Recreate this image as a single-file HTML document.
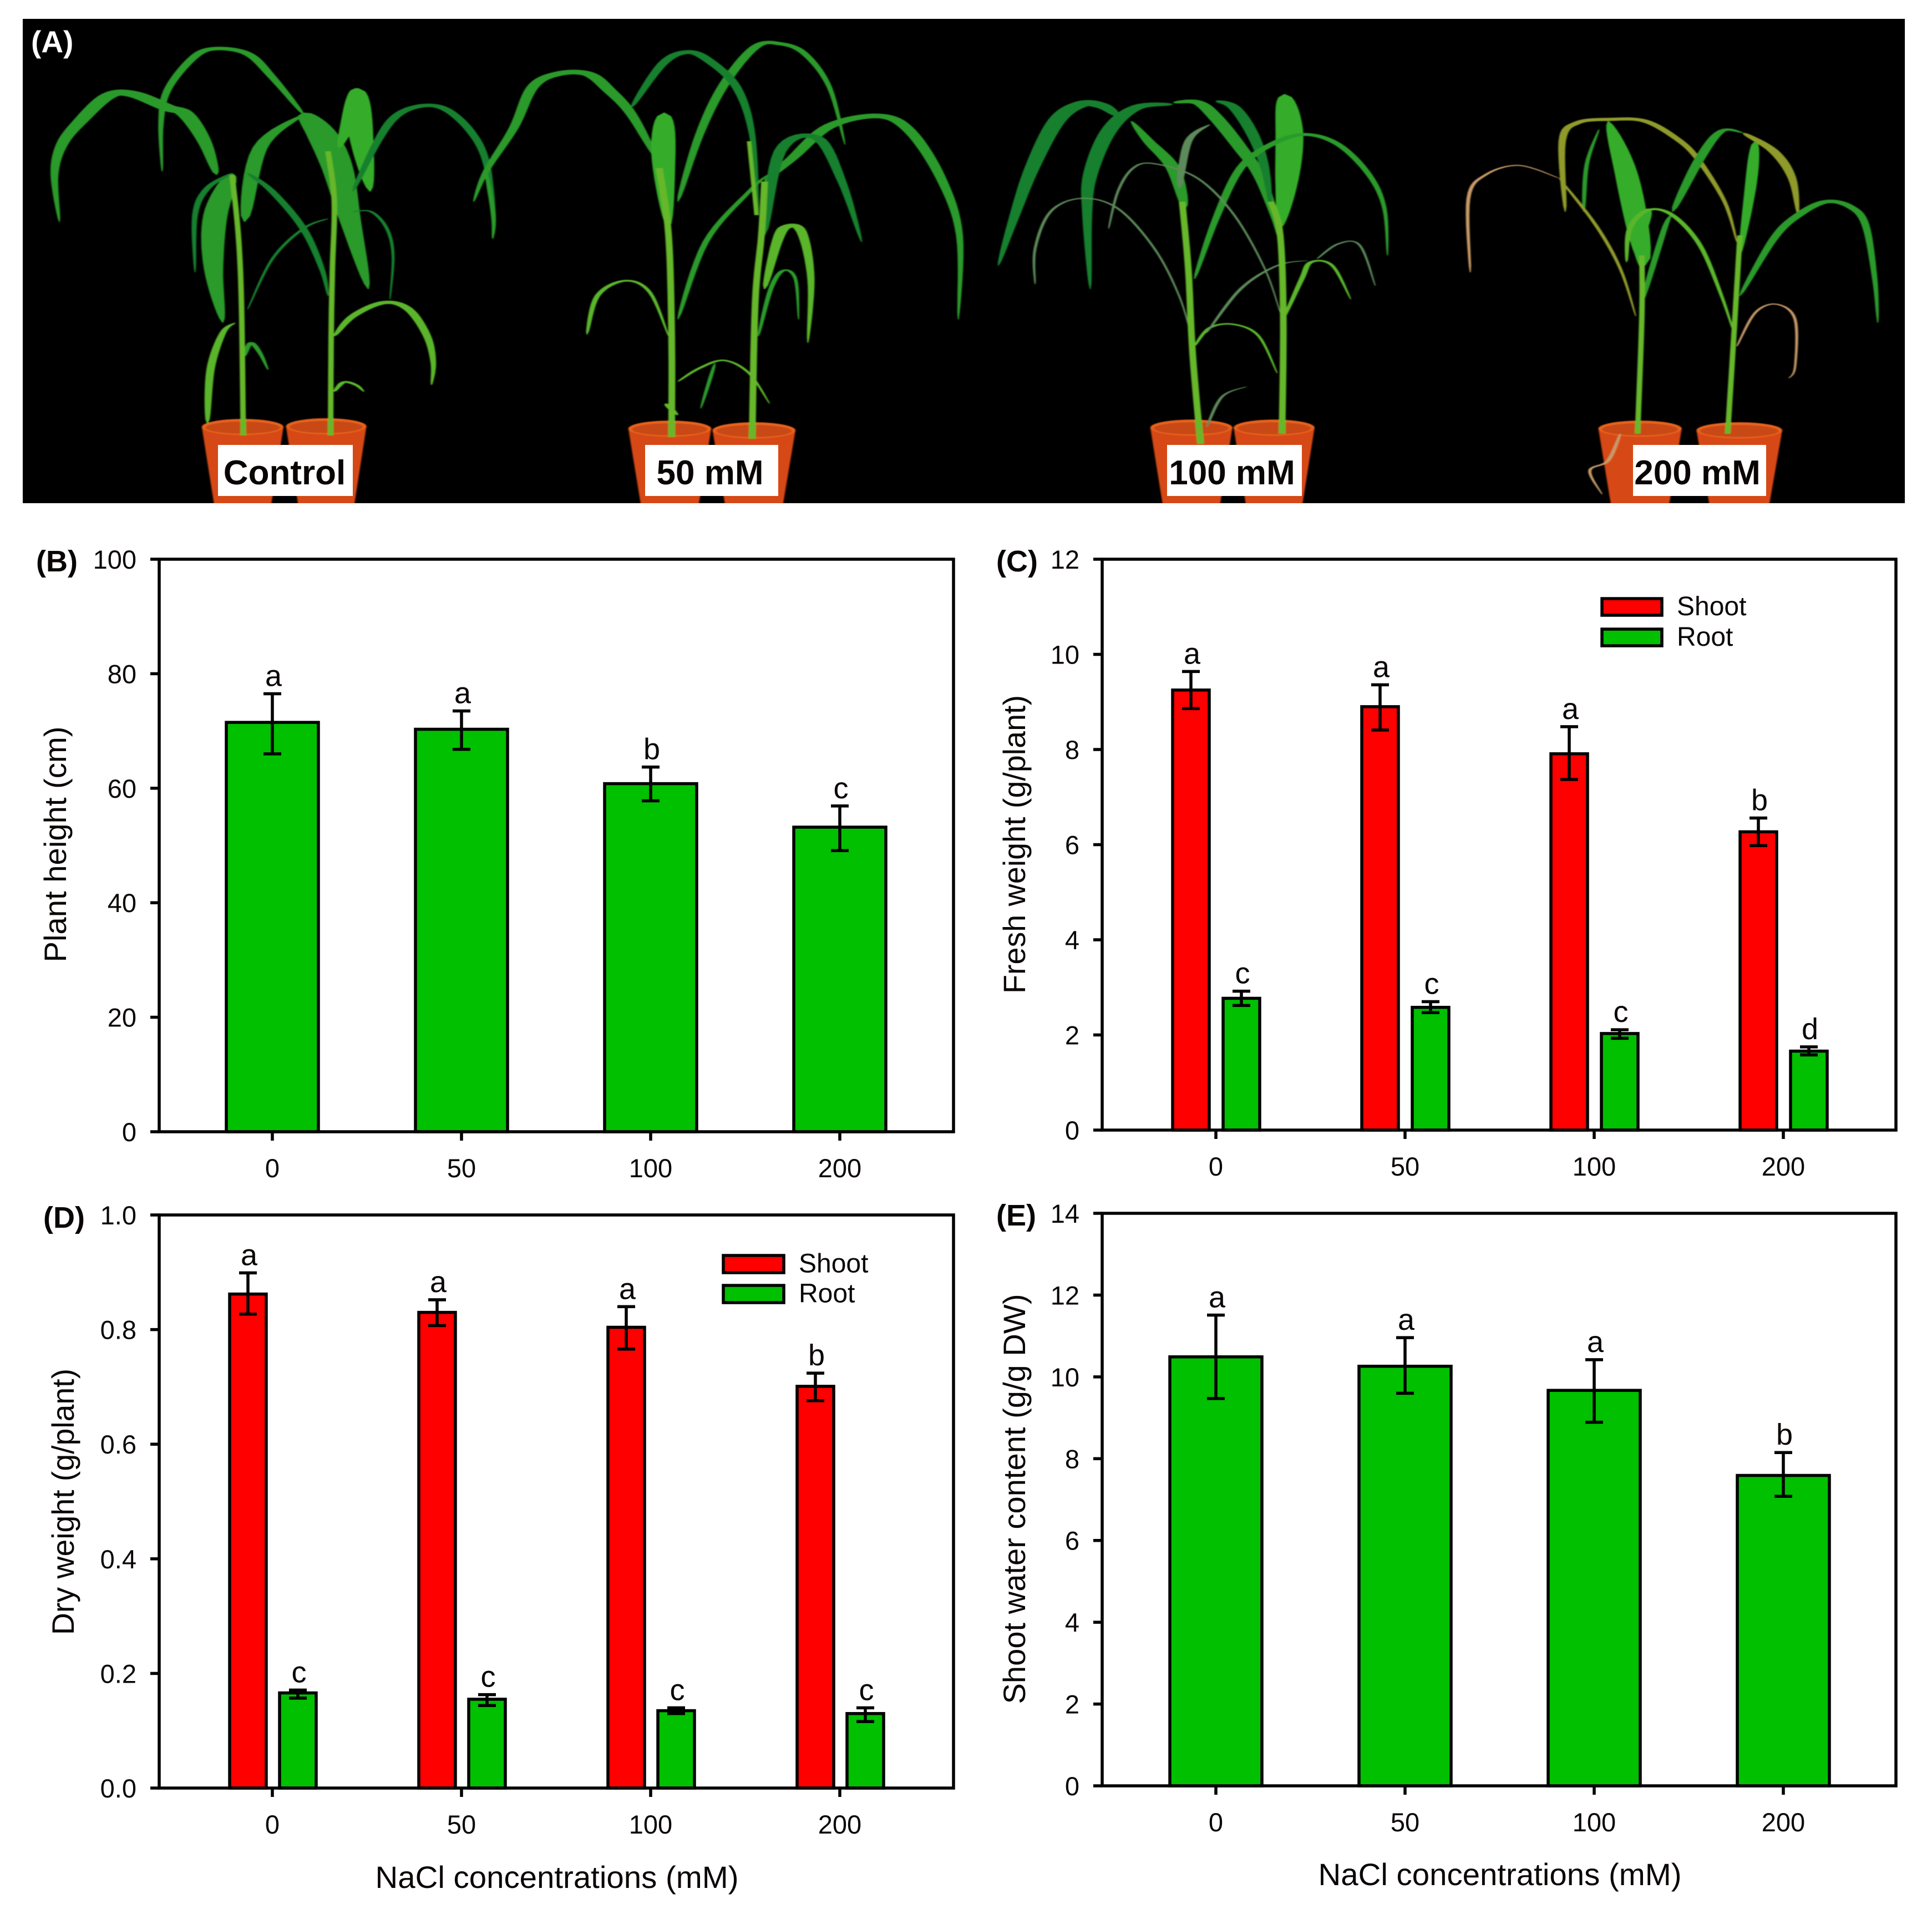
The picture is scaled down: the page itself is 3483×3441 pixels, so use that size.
<!DOCTYPE html>
<html lang="en">
<head>
<meta charset="utf-8">
<title>Sorghum growth under NaCl concentrations</title>
<style>
html,body{margin:0;padding:0;background:#fff;width:3483px;height:3441px;overflow:hidden}
svg{display:block}
text{font-family:"Liberation Sans",sans-serif;fill:#0a0505}
</style>
</head>
<body>
<svg id="figure" xmlns="http://www.w3.org/2000/svg" width="3483" height="3441" viewBox="0 0 3483 3441">
  <defs>
    <clipPath id="photo-clip"><rect x="41" y="34" width="3393" height="873"/></clipPath>
    <filter id="soft" x="-2%" y="-2%" width="104%" height="104%"><feGaussianBlur stdDeviation="1.2"/></filter>
  </defs>
  <g id="panel-a">
    <rect x="41" y="34" width="3393" height="873" fill="#000"/>
    <g clip-path="url(#photo-clip)">
      <g id="plants-left" transform="scale(1.116,0.606)" filter="url(#soft)"></g>
      <g id="plants-right" transform="translate(1750,0) scale(1.105,0.606)" filter="url(#soft)"></g>
    </g>
    <rect x="393" y="802" width="243" height="92" fill="#fff"/>
    <rect x="1163" y="802" width="240" height="92" fill="#fff"/>
    <rect x="2104" y="802" width="243" height="92" fill="#fff"/>
    <rect x="2944" y="802" width="240" height="92" fill="#fff"/>
    <text x="513" y="873" font-size="62" font-weight="bold" text-anchor="middle">Control</text>
    <text x="1280" y="873" font-size="62" font-weight="bold" text-anchor="middle">50 mM</text>
    <text x="2221" y="873" font-size="62" font-weight="bold" text-anchor="middle">100 mM</text>
    <text x="3060" y="873" font-size="62" font-weight="bold" text-anchor="middle">200 mM</text>
    <text x="56" y="94" font-size="55" font-weight="bold" style="fill:#fff">(A)</text>
  </g>
  <g id="charts"></g>
</svg>

<script>
// ---------- Chart data ----------
const categories = ['0', '50', '100', '200'];

const heightTicks = ['0', '20', '40', '60', '80', '100'];
const heightValues = [71.5, 70.3, 60.8, 53.2];
const heightErrHigh = [76.5, 73.5, 63.7, 56.9];
const heightErrLow = [66.0, 66.8, 57.8, 49.1];
const heightLetters = ['a', 'a', 'b', 'c'];

const freshTicks = ['0', '2', '4', '6', '8', '10', '12'];
const freshShoot = [9.25, 8.90, 7.91, 6.27];
const freshShootHigh = [9.64, 9.36, 8.48, 6.56];
const freshShootLow = [8.86, 8.41, 7.37, 5.98];
const freshShootLetters = ['a', 'a', 'a', 'b'];
const freshRoot = [2.77, 2.58, 2.03, 1.66];
const freshRootHigh = [2.92, 2.70, 2.11, 1.75];
const freshRootLow = [2.62, 2.47, 1.93, 1.58];
const freshRootLetters = ['c', 'c', 'c', 'd'];

const dryTicks = ['0.0', '0.2', '0.4', '0.6', '0.8', '1.0'];
const dryShoot = [0.862, 0.830, 0.804, 0.701];
const dryShootHigh = [0.899, 0.852, 0.840, 0.724];
const dryShootLow = [0.827, 0.807, 0.766, 0.676];
const dryShootLetters = ['a', 'a', 'a', 'b'];
const dryRoot = [0.166, 0.155, 0.135, 0.130];
const dryRootHigh = [0.171, 0.163, 0.140, 0.140];
const dryRootLow = [0.157, 0.144, 0.130, 0.116];
const dryRootLetters = ['c', 'c', 'c', 'c'];

const waterTicks = ['0', '2', '4', '6', '8', '10', '12', '14'];
const waterValues = [10.49, 10.26, 9.67, 7.59];
const waterErrHigh = [11.51, 10.96, 10.42, 8.15];
const waterErrLow = [9.47, 9.60, 8.89, 7.08];
const waterLetters = ['a', 'a', 'a', 'b'];

// ---------- Drawing ----------
const NS = 'http://www.w3.org/2000/svg';
const GREEN = '#00c000', RED = '#ff0000', STROKE = 5.5;
const chartsRoot = document.getElementById('charts');

function mk(tag, attrs, parent) {
  const el = document.createElementNS(NS, tag);
  for (const k in attrs) el.setAttribute(k, attrs[k]);
  parent.appendChild(el);
  return el;
}
function line(x1, y1, x2, y2, w, parent) {
  return mk('line', {x1: x1, y1: y1, x2: x2, y2: y2, stroke: '#000', 'stroke-width': w}, parent);
}
function label(str, x, y, size, anchor, parent) {
  const t = mk('text', {x: x, y: y, 'font-size': size, 'text-anchor': anchor}, parent);
  t.textContent = str;
  return t;
}

function drawPanel(p) {
  const g = mk('g', {}, chartsRoot);
  
  

  const yScale = v => p.bottom - (v / p.max) * (p.bottom - p.top);
  const xScale = i => p.x0 + i * p.dx;

  // series
  p.series.forEach(s => {
    s.values.forEach((v, i) => {
      const cx = xScale(i) + s.offset;
      const bar = mk('rect', {x: cx - s.width / 2, y: yScale(v), width: s.width, height: yScale(0) - yScale(v), fill: s.color, stroke: '#000', 'stroke-width': STROKE}, g);
      
      

      const ex = cx;
      const yHi = yScale(s.high[i]), yLo = yScale(s.low[i]);
      const stem = line(ex, yHi, ex, yLo, STROKE, g);
      
      
      const capHi = line(ex - 16, yHi, ex + 16, yHi, STROKE, g);
      
      
      const capLo = line(ex - 16, yLo, ex + 16, yLo, STROKE, g);
      
      

      const sig = label(s.letters[i], cx + 2, yHi - 14, 54, 'middle', g);
      
      
    });
  });

  // frame
  const frame = mk('rect', {x: p.left, y: p.top, width: p.right - p.left, height: p.bottom - p.top, fill: 'none', stroke: '#000', 'stroke-width': STROKE}, g);
  
  

  // y axis ticks
  p.ticks.forEach(tick => {
    const y = yScale(parseFloat(tick));
    const tm = line(p.left - 16, y, p.left, y, STROKE, g);
    
    
    const tl = label(tick, p.left - 41, y + 17, 47, 'end', g);
    
    
  });

  // x axis ticks
  categories.forEach((c, i) => {
    const x = xScale(i);
    const tm = line(x, p.bottom, x, p.bottom + 16, STROKE, g);
    
    
    const tl = label(c, x, p.bottom + 82, 47, 'middle', g);
    
    
  });

  // y title
  const yt = mk('text', {x: p.yTitleX, y: p.yTitleY, 'font-size': 56, 'text-anchor': 'middle', textLength: p.yTitleLen, lengthAdjust: 'spacingAndGlyphs', transform: 'rotate(-90 ' + p.yTitleX + ' ' + p.yTitleY + ')', dy: '15'}, g);
  yt.textContent = p.yTitle;
  
  

  // x title
  if (p.xTitle) {
    const xt = mk('text', {x: p.xTitleX, y: p.xTitleY, 'font-size': 56, 'text-anchor': 'middle', textLength: p.xTitleLen, lengthAdjust: 'spacingAndGlyphs'}, g);
    xt.textContent = p.xTitle;
    
    
  }

  // panel letter
  const pl = mk('text', {x: p.letterX, y: p.letterY, 'font-size': 54, 'font-weight': 'bold'}, g);
  pl.textContent = p.letter;
  
  

  // legend
  if (p.legend) {
    [['Shoot', RED, p.legend.y1], ['Root', GREEN, p.legend.y2]].forEach(e => {
      const sw = mk('rect', {x: p.legend.x, y: e[2], width: p.legend.w, height: p.legend.h, fill: e[1], stroke: '#000', 'stroke-width': STROKE}, g);
      
      
      const lt = label(e[0], p.legend.tx, e[2] + p.legend.h / 2 + 15, 48, 'start', g);
      
      
    });
  }
}

drawPanel({
  letter: '(B)', letterX: 65, letterY: 1030,
  left: 287, right: 1719, top: 1008, bottom: 2040, max: 100, ticks: heightTicks,
  x0: 491, dx: 341,
  yTitle: 'Plant height (cm)', yTitleX: 104, yTitleY: 1522, yTitleLen: 425,
  series: [{values: heightValues, high: heightErrHigh, low: heightErrLow, letters: heightLetters, color: GREEN, offset: 0, width: 166}]
});
drawPanel({
  letter: '(C)', letterX: 1796, letterY: 1030,
  left: 1987, right: 3418, top: 1008, bottom: 2037, max: 12, ticks: freshTicks,
  x0: 2192, dx: 341,
  yTitle: 'Fresh weight (g/plant)', yTitleX: 1833, yTitleY: 1522, yTitleLen: 538,
  legend: {x: 2888, w: 108, h: 30, y1: 1079, y2: 1134, tx: 3023},
  series: [
    {values: freshShoot, high: freshShootHigh, low: freshShootLow, letters: freshShootLetters, color: RED, offset: -45, width: 66},
    {values: freshRoot, high: freshRootHigh, low: freshRootLow, letters: freshRootLetters, color: GREEN, offset: 46, width: 66}
  ]
});
drawPanel({
  letter: '(D)', letterX: 78, letterY: 2213,
  left: 287, right: 1719, top: 2190, bottom: 3223, max: 1, ticks: dryTicks,
  x0: 491, dx: 341,
  yTitle: 'Dry weight (g/plant)', yTitleX: 118, yTitleY: 2707, yTitleLen: 480,
  xTitle: 'NaCl concentrations (mM)', xTitleX: 1004, xTitleY: 3403, xTitleLen: 655,
  legend: {x: 1304, w: 109, h: 31, y1: 2263, y2: 2317, tx: 1440},
  series: [
    {values: dryShoot, high: dryShootHigh, low: dryShootLow, letters: dryShootLetters, color: RED, offset: -44, width: 66},
    {values: dryRoot, high: dryRootHigh, low: dryRootLow, letters: dryRootLetters, color: GREEN, offset: 46, width: 66}
  ]
});
drawPanel({
  letter: '(E)', letterX: 1796, letterY: 2209,
  left: 1987, right: 3418, top: 2187, bottom: 3219, max: 14, ticks: waterTicks,
  x0: 2192, dx: 341,
  yTitle: 'Shoot water content (g/g DW)', yTitleX: 1833, yTitleY: 2702, yTitleLen: 739,
  xTitle: 'NaCl concentrations (mM)', xTitleX: 2704, xTitleY: 3398, xTitleLen: 655,
  series: [{values: waterValues, high: waterErrHigh, low: waterErrLow, letters: waterLetters, color: GREEN, offset: 0, width: 166}]
});

// ---------- Plant illustration for the photo panel ----------
function smooth(pts) {
  const out = [];
  for (let i = 0; i < pts.length - 1; i++) {
    const p0 = pts[Math.max(0, i - 1)], p1 = pts[i], p2 = pts[i + 1], p3 = pts[Math.min(pts.length - 1, i + 2)];
    for (let k = 0; k < 8; k++) {
      const t = k / 8, t2 = t * t, t3 = t2 * t;
      out.push([
        0.5 * (2 * p1[0] + (p2[0] - p0[0]) * t + (2 * p0[0] - 5 * p1[0] + 4 * p2[0] - p3[0]) * t2 + (3 * p1[0] - p0[0] - 3 * p2[0] + p3[0]) * t3),
        0.5 * (2 * p1[1] + (p2[1] - p0[1]) * t + (2 * p0[1] - 5 * p1[1] + 4 * p2[1] - p3[1]) * t2 + (3 * p1[1] - p0[1] - 3 * p2[1] + p3[1]) * t3)
      ]);
    }
  }
  out.push(pts[pts.length - 1]);
  return out;
}
function leafPath(pts, w, stem) {
  const c = smooth(pts), a = [], b = [];
  c.forEach((q, i) => {
    const n = c[Math.min(i + 1, c.length - 1)], m = c[Math.max(i - 1, 0)];
    const dx = n[0] - m[0], dy = n[1] - m[1], len = Math.hypot(dx, dy) || 1;
    const t = i / (c.length - 1);
    const hw = stem ? w / 2 : (w / 2) * Math.pow(Math.sin(Math.PI * Math.pow(t, 0.7)), 0.7) + 0.8;
    a.push((q[0] - dy / len * hw).toFixed(1) + ',' + (q[1] + dx / len * hw * 0.6).toFixed(1));
    b.unshift((q[0] + dy / len * hw).toFixed(1) + ',' + (q[1] - dx / len * hw * 0.6).toFixed(1));
  });
  return 'M' + a.concat(b).join('L') + 'Z';
}

const DK = '#17802e', MD = '#2a9a2a', LT = '#5ab52a', ST = '#66b82c', BR = '#35ad2c', GY = '#5d8a5a', TN = '#c79a66', YL = '#8f9a2a';

const potsLeft = [[392, 1270, 66], [527, 1268, 65], [1082, 1275, 67], [1218, 1280, 67]];
const potsRight = [[360, 1272, 67], [495, 1272, 66], [1092, 1275, 68], [1254, 1280, 70]];

const leavesLeft = [
  [MD, 30, [[350,520],[330,420],[300,340],[270,320],[215,280],[175,285],[130,360],[100,430],[88,520],[96,660]]],
  [MD, 16, [[490,340],[440,230],[400,160],[345,145],[310,175],[270,270],[260,370],[262,510]]],
  [MD, 52, [[490,335],[520,400],[545,500],[565,650],[595,860]]],
  [BR, 40, [[578,262],[583,400],[598,570]]],
  [BR, 26, [[575,262],[565,350],[548,440]]],
  [DK, 16, [[570,570],[610,420],[640,345],[680,315],[720,325],[760,390],[785,480],[797,640],[796,710]]],
  [MD, 38, [[375,515],[348,640],[345,800],[360,960]]],
  [MD, 24, [[395,660],[420,440],[490,340]]],
  [DK, 12, [[400,515],[440,570],[490,680],[520,800],[530,880]]],
  [DK, 10, [[375,515],[335,560],[315,640],[315,810]]],
  [DK, 5, [[530,650],[490,680],[440,770],[400,920]]],
  [DK, 5, [[570,630],[600,630],[625,680],[635,760],[630,890]]],
  [LT, 15, [[540,1000],[570,940],[620,900],[660,920],[690,1000],[700,1080],[697,1145]]],
  [LT, 12, [[335,1260],[340,1100],[360,990],[380,960]]],
  [MD, 8, [[395,1060],[405,1020],[420,1050],[433,1100]]],
  [LT, 8, [[540,1165],[555,1137],[575,1145],[588,1165]]],
  [MD, 22, [[1060,470],[1020,340],[985,270],[950,220],[900,220],[860,260],[830,380],[785,510],[765,600]]],
  [MD, 6, [[785,510],[797,640],[796,710]]],
  [BR, 38, [[1073,335],[1072,480],[1080,680]]],
  [MD, 16, [[1095,600],[1130,400],[1170,250],[1220,140],[1260,130],[1300,160],[1340,260],[1365,430]]],
  [DK, 18, [[1020,320],[1070,190],[1110,155],[1145,180],[1190,260],[1215,400],[1225,640]]],
  [MD, 22, [[1235,540],[1280,470],[1340,375],[1420,345],[1470,390],[1520,530],[1550,700],[1548,950]]],
  [DK, 20, [[1235,700],[1260,450],[1320,410],[1360,540],[1392,720]]],
  [MD, 9, [[1095,950],[1140,720],[1210,570],[1240,520]]],
  [LT, 18, [[1235,860],[1255,720],[1270,675],[1295,690],[1310,830],[1305,1020]]],
  [MD, 7, [[1225,1000],[1245,860],[1265,805],[1285,830],[1290,950]]],
  [LT, 8, [[948,995],[965,880],[1010,835],[1050,870],[1080,1000]]],
  [LT, 6, [[1095,1135],[1130,1095],[1170,1072],[1210,1110],[1243,1200]]],
  [MD, 5, [[1155,1080],[1132,1215]]],
  [LT, 9, [[1075,1200],[1095,1235]]]
];
const stemsLeft = [
  [9, [[393,1295],[390,900],[385,700],[375,520]]],
  [9, [[534,1295],[535,1000],[537,800],[540,600],[530,450]]],
  [11, [[1085,1300],[1085,1000],[1080,700],[1065,500]]],
  [11, [[1215,1305],[1220,900],[1230,700],[1235,540]]],
  [7, [[1222,640],[1210,420]]]
];

const leavesRight = [
  [DK, 30, [[240,345],[215,315],[180,310],[140,360],[100,500],[70,650],[45,790]]],
  [DK, 26, [[330,310],[270,320],[225,390],[195,520],[190,640],[195,860]]],
  [MD, 22, [[350,620],[330,500],[290,420],[262,360]]],
  [MD, 24, [[330,305],[370,305],[400,350],[440,440],[470,520],[495,640],[505,720]]],
  [DK, 20, [[400,300],[430,320],[460,400],[480,500],[490,620]]],
  [BR, 44, [[512,280],[520,400],[515,550],[505,680]]],
  [MD, 14, [[365,830],[400,650],[440,500],[490,430],[545,400],[600,430],[650,520],[675,620],[680,760]]],
  [GY, 12, [[340,560],[355,420],[390,370]]],
  [GY, 4, [[105,845],[105,740],[130,630],[180,590],[240,620],[300,740],[340,880],[360,1000]]],
  [GY, 4, [[225,680],[240,570],[265,500],[300,487],[370,530],[430,640],[480,800],[505,930]]],
  [LT, 6, [[365,1030],[390,975],[430,965],[470,1000],[500,1110]]],
  [LT, 8, [[510,950],[540,830],[555,780],[590,790],[620,890]]],
  [GY, 5, [[385,990],[440,860],[500,790],[550,775]]],
  [GY, 4, [[565,770],[600,725],[635,730],[660,850]]],
  [GY, 4, [[385,1270],[410,1180],[450,1150]]],
  [BR, 38, [[1100,790],[1070,520],[1040,360]]],
  [BR, 24, [[1105,620],[1090,700],[1095,800]]],
  [YL, 14, [[970,630],[965,420],[990,365],[1045,355],[1100,360],[1150,410],[1185,470],[1230,600],[1250,720]]],
  [MD, 6, [[1000,630],[1005,490],[1025,385]]],
  [TN, 5, [[815,810],[812,590],[840,520],[895,492],[960,530]]],
  [YL, 5, [[960,530],[1020,670],[1060,800],[1085,940]]],
  [MD, 16, [[1145,630],[1190,470],[1225,390],[1260,395]]],
  [YL, 16, [[1260,395],[1310,450],[1340,530],[1350,640]]],
  [MD, 9, [[1095,900],[1130,690],[1142,640]]],
  [LT, 9, [[1070,780],[1075,680],[1105,625],[1145,640],[1190,730],[1225,880],[1245,990]]],
  [BR, 18, [[1280,420],[1272,560],[1255,760]]],
  [MD, 16, [[1255,880],[1310,710],[1350,640],[1395,600],[1435,615],[1460,670],[1475,830],[1480,960]]],
  [TN, 4, [[1250,1030],[1280,930],[1315,905],[1345,950],[1345,1090],[1335,1125]]],
  [TN, 5, [[1060,1290],[1040,1370],[1010,1400],[1030,1470]]]
];
const stemsRight = [
  [11, [[375,1320],[362,1050],[355,800],[345,600]]],
  [11, [[508,1290],[510,950],[505,700],[490,600]]],
  [9, [[1088,1290],[1095,940],[1095,760]]],
  [9, [[1235,1290],[1245,1000],[1250,850],[1255,700]]]
];

function drawPots(list, root) {
  list.forEach(p => {
    const body = mk('path', {d: 'M' + (p[0] - p[2]) + ' ' + p[1] + 'L' + (p[0] - p[2] * 0.7) + ' 1500L' + (p[0] + p[2] * 0.7) + ' 1500L' + (p[0] + p[2]) + ' ' + p[1] + 'Z', fill: '#d64a12'}, root);
    
    
    const rim = mk('ellipse', {cx: p[0], cy: p[1], rx: p[2], ry: 24, fill: '#e8621f'}, root);
    
    
    const inner = mk('ellipse', {cx: p[0], cy: p[1] + 2, rx: p[2] - 6, ry: 18, fill: '#c84a14'}, root);
    
    
  });
}
function drawLeaves(list, root) {
  list.forEach(l => {
    const leaf = mk('path', {d: leafPath(l[2], l[1], false), fill: l[0]}, root);
    
    
  });
}
function drawStems(list, root) {
  list.forEach(s => {
    const stem = mk('path', {d: leafPath(s[1], s[0], true), fill: ST}, root);
    
    
  });
}
const rootLeft = document.getElementById('plants-left');
const rootRight = document.getElementById('plants-right');
drawPots(potsLeft, rootLeft);
drawLeaves(leavesLeft, rootLeft);
drawStems(stemsLeft, rootLeft);
drawPots(potsRight, rootRight);
drawLeaves(leavesRight, rootRight);
drawStems(stemsRight, rootRight);
</script>
</body>
</html>
